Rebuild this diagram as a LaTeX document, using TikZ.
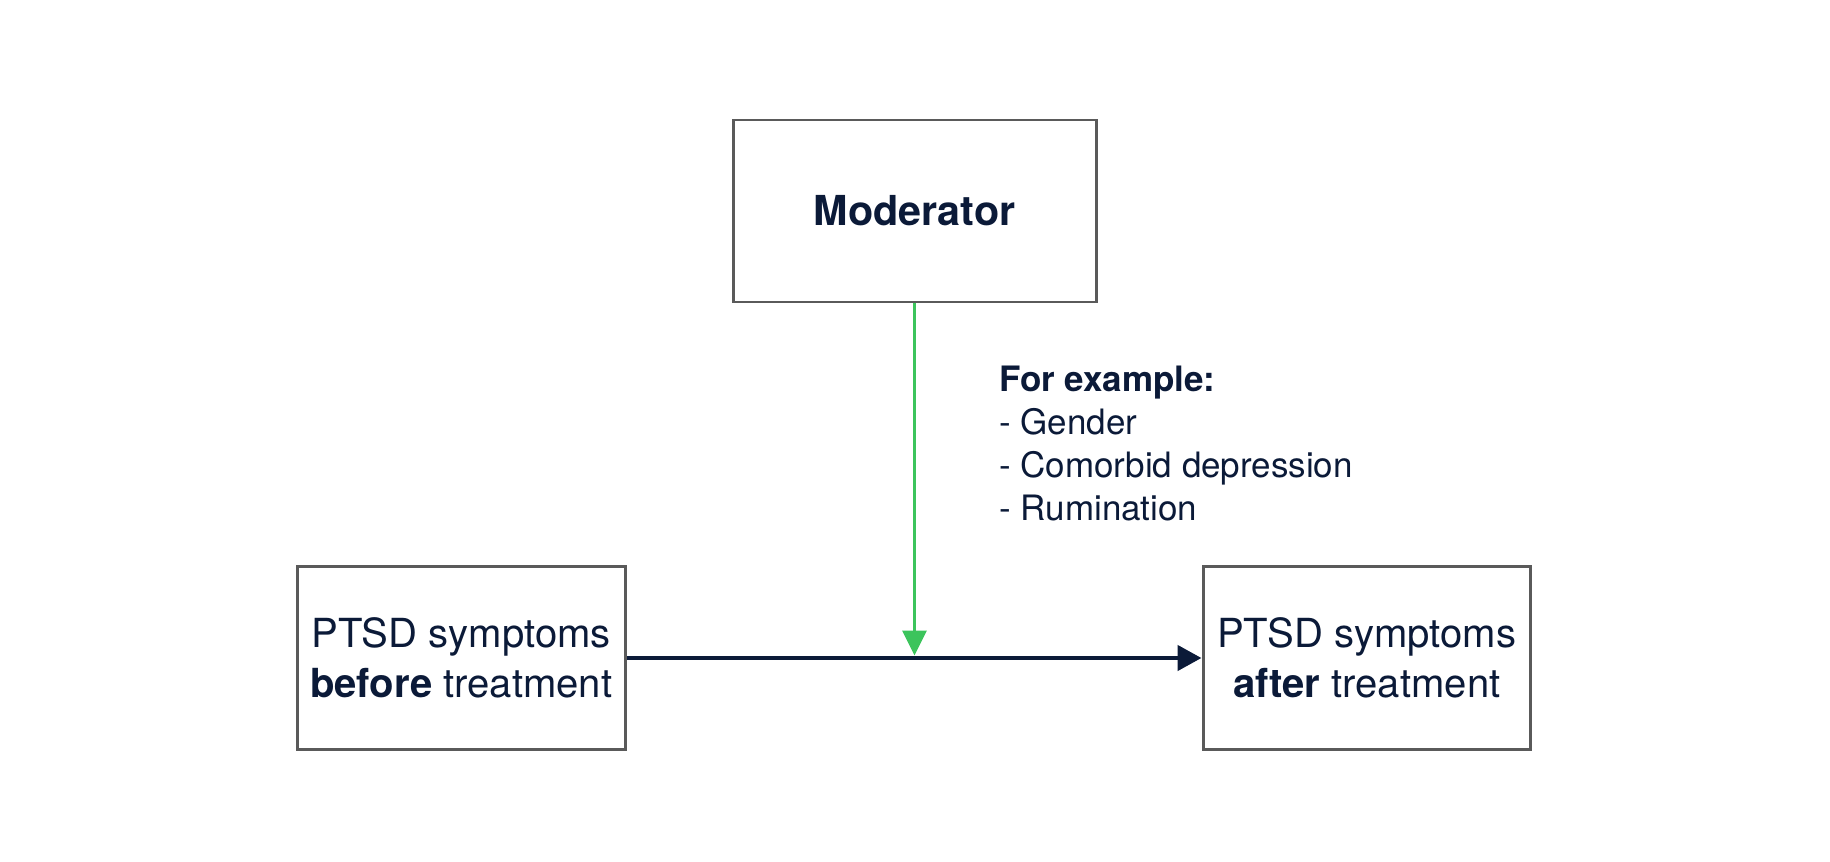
\documentclass[tikz,border=0pt]{standalone}
\usepackage{fontspec}
\setmainfont{TeX Gyre Heros}
\usepackage{xcolor}
\usetikzlibrary { arrows.meta, positioning,
}
\definecolor{navy}{HTML}{0B1A38}
\definecolor{boxgray}{HTML}{5A5A5A}
\definecolor{modgreen}{HTML}{3CC45C}

\begin{document}
\begin{tikzpicture}[
		varbox/.style = {draw=boxgray, line width=1.7pt, text=navy, align=center, minimum width=6.55cm, minimum height=3.66cm, font=\fontsize{22.8}{28.5}\selectfont},
	]
		\useasboundingbox (0,0) rectangle (36.6,17.22);
		\node[varbox, minimum width=7.26cm, minimum height=3.64cm, font=\fontsize{23.5}{28.5}\selectfont] (moderator) at (18.29, 13.0) {\textbf{Moderator}};
		\node[varbox] (before) at (9.225, 4.06) {PTSD symptoms\\\textbf{before} treatment};
		\node[varbox] (after) at (27.335, 4.06) {PTSD symptoms\\\textbf{after} treatment};
		\node[anchor=north west, inner sep=0pt, align=left, text=navy, font=\fontsize{19.9}{24.4}\selectfont] (examples) at (19.98, 9.9) {\textbf{For example:}\\- Gender\\- Comorbid depression\\- Rumination};
		\coordinate (meet) at (moderator.south |- before.east);
		\draw[navy, line width=2.6pt, -{Triangle[length=0.48cm, width=0.5cm]}] (before.east) -- (after.west);
		\draw[modgreen, line width=2pt, -{Triangle[length=0.5cm, width=0.48cm]}, shorten >=0.05cm] (moderator.south) -- (meet);
	\end{tikzpicture}
\end{document}
